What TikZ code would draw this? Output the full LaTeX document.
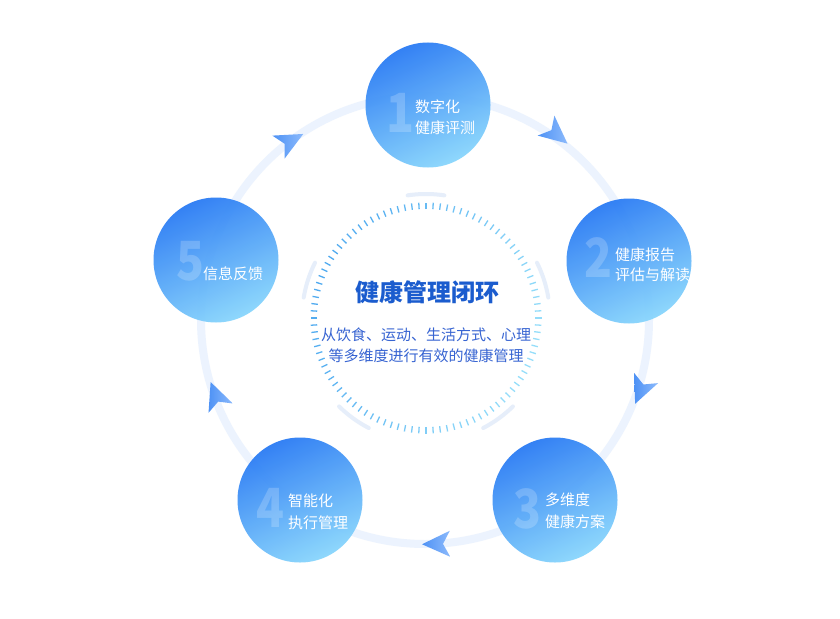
\documentclass[tikz,border=0pt]{standalone}
\usepackage{fontspec}
\setmainfont{Noto Sans CJK SC}
\newfontfamily\numfont{Noto Sans CJK SC}[FakeStretch=0.85]
\definecolor{ringc}{RGB}{236,243,254}
\definecolor{segc}{RGB}{230,238,250}
\definecolor{tickA}{RGB}{80,170,240}
\definecolor{tickB}{RGB}{150,222,250}
\definecolor{bubdark}{RGB}{40,122,244}
\definecolor{bublight}{RGB}{136,214,252}
\definecolor{arrA}{RGB}{78,146,245}
\definecolor{arrB}{RGB}{140,186,252}
\definecolor{titlec}{RGB}{27,92,206}
\definecolor{subc}{RGB}{55,100,210}
\begin{document}
\begin{tikzpicture}[x=1pt,y=-1pt,
 bub/.style={circle, minimum size=125pt, inner sep=0pt, top color=bubdark, bottom color=bublight, shading angle=25, fill opacity=0.94},
 numtxt/.style={anchor=base, inner sep=0pt, text=white, text opacity=0.2, font=\numfont\bfseries\fontsize{54}{54}\selectfont},
 lbl/.style={anchor=base west, inner sep=0pt, text=white, font=\fontsize{15}{18}\selectfont},
 ringline/.style={line width=8pt, ringc},
 segline/.style={line width=4pt, segc, line cap=round},
 navarrow/.pic={\shade[left color=arrA, right color=arrB] (15,0) -- (-13,13) -- (-6,0) -- (-13,-13) -- cycle;}
]
\useasboundingbox (0,0) rectangle (840,618);
\fill[white] (0,0) rectangle (840,618);

% big ring
\coordinate (rc) at (425,320);
\draw[ringline] (rc) circle[radius=224pt];

% ticks of inner ring
\foreach \i in {0,...,99}{
  \pgfmathsetmacro\a{\i*3.6}
  \pgfmathsetmacro\p{int(50+50*cos(\a-160))}
  \draw[line width=1.3pt, tickA!\p!tickB] ({426+109*cos(\a)},{318-109*sin(\a)}) -- ({426+115.5*cos(\a)},{318-115.5*sin(\a)});
}
% light segments
\foreach \c in {18,90,162,234,306}{
  \pgfmathsetmacro\s{\c-8.5}
  \pgfmathsetmacro\e{\c+8.5}
  \draw[segline] plot[domain=\s:\e, samples=15] ({426+124*cos(\x)},{318-124*sin(\x)});
}

% arrows on ring
\pic[rotate=28] at (290,141) {navarrow};
\pic[rotate=-40] at (556,134) {navarrow};
\pic[rotate=-113] at (641,390) {navarrow};
\pic[rotate=181] at (437,544) {navarrow};
\pic[rotate=111] at (216,396) {navarrow};

% centre texts
\node[anchor=base, inner sep=0pt, text=titlec, font=\bfseries\fontsize{24}{28}\selectfont] (title) at (427,301) {健康管理闭环};
\node[anchor=base, inner sep=0pt, text=subc, font=\fontsize{15}{18}\selectfont] (sub1) at (426,340) {从饮食、运动、生活方式、心理};
\node[anchor=base, inner sep=0pt, text=subc, font=\fontsize{15}{18}\selectfont] (sub2) at (426,361) {等多维度进行有效的健康管理};

% bubbles
\node[bub] (n1) at (428,105) {};
\node[bub] (n2) at (629,261) {};
\node[bub] (n3) at (555,500) {};
\node[bub] (n4) at (300,500) {};
\node[bub] (n5) at (216,260) {};

% numbers
\node[numtxt] (d1) at (400,132) {1};
\node[numtxt] (d2) at (598,277) {2};
\node[numtxt] (d3) at (527,528) {3};
\node[numtxt] (d4) at (270,527) {4};
\node[numtxt] (d5) at (190,280) {5};

% labels
\node[lbl] (l1a) at (415,112) {数字化};
\node[lbl] (l1b) at (415,133) {健康评测};
\node[lbl] (l2a) at (615,260) {健康报告};
\node[lbl] (l2b) at (615,280) {评估与解读};
\node[lbl] (l3a) at (545,505) {多维度};
\node[lbl] (l3b) at (545,527) {健康方案};
\node[lbl] (l4a) at (288,506) {智能化};
\node[lbl] (l4b) at (288,528) {执行管理};
\node[lbl] (l5a) at (203,279) {信息反馈};
\end{tikzpicture}
\end{document}
